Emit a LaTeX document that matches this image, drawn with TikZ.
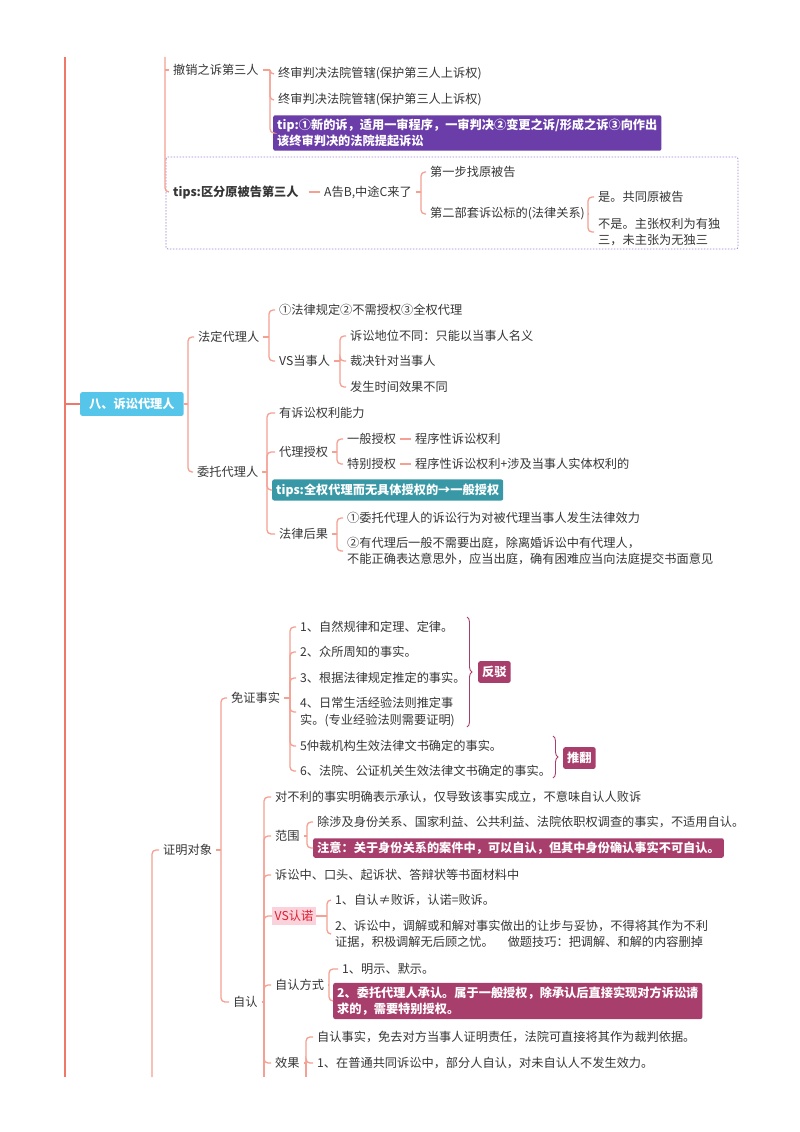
\documentclass[tikz,border=0pt]{standalone}
\usepackage{fontspec}
\setmainfont{Noto Sans CJK SC}
\usetikzlibrary{decorations.pathreplacing}
\definecolor{trunkc}{HTML}{F07868}
\definecolor{brcol}{HTML}{F4A092}
\definecolor{tc}{HTML}{363636}
\definecolor{purp}{HTML}{6A3DA8}
\definecolor{cyanb}{HTML}{55C5EA}
\definecolor{tealb}{HTML}{3898A6}
\definecolor{mag}{HTML}{A83E6C}
\definecolor{dashc}{HTML}{9C84D4}
\definecolor{pinkbg}{HTML}{F9D2DC}
\definecolor{redt}{HTML}{E0202E}
\newcommand{\fs}{\fontsize{12.2}{16.5}\selectfont}
\newcommand{\kids}[3]{%
  \draw[br] (#1.east) -- (#1.east -| #2);
  \foreach \k in {#3}{\draw[rc] (#1.east -| #2) |- (\k.west);}}
\begin{document}
\begin{tikzpicture}[x=1pt,y=-1pt,
  txt/.style={anchor=west,inner xsep=4pt,inner ysep=2pt,xshift=-2pt,font=\fs,text=tc,align=left},
  btxt/.style={txt,font=\fs\bfseries},
  box/.style={anchor=west,inner xsep=4pt,inner ysep=3.5pt,font=\fs\bfseries,text=white,align=left,rounded corners=2pt},
  br/.style={draw=brcol,line width=1.3pt},
  rc/.style={br,rounded corners=4pt},
  trunk/.style={draw=trunkc,line width=2.6pt},
  bracest/.style={draw=mag,line width=0.9pt,decorate,decoration={brace,amplitude=5pt}},
]
\useasboundingbox[fill=white] (0,0) rectangle (800,1132);

% trunk
\coordinate (t0) at (65,57);
\coordinate (t1) at (65,1077);
\draw[trunk] (t0) -- (t1);

% ---------- top section
\coordinate (p0) at (165,57);
\node[txt] (a1) at (171,70) {撤销之诉第三人};
\node[txt] (a11) at (276,74) {终审判决法院管辖(保护第三人上诉权)};
\node[txt] (a12) at (276,100) {终审判决法院管辖(保护第三人上诉权)};
\node[box,fill=purp] (a13) at (273,133) {tip:①新的诉，适用一审程序，一审判决②变更之诉/形成之诉③向作出\\该终审判决的法院提起诉讼};
\coordinate (bA) at (270,0);
\kids{a1}{bA}{a11,a12,a13}

\draw[draw=dashc,dash pattern=on 1.5pt off 1.5pt,line width=0.8pt,rounded corners=2pt] (166,157) rectangle (738,249);
\node[btxt] (a2) at (171,192) {tips:区分原被告第三人};
\draw[rc] (p0) |- (a2.west);
\draw[br] (a1.west -| p0) -- (a1.west);

\node[txt] (a21) at (322,192) {A告B,中途C来了};
\draw[br,shorten <=6pt] (a2.east) -- (a21.west);
\node[txt] (a211) at (428,172) {第一步找原被告};
\node[txt] (a212) at (428,214) {第二部套诉讼标的(法律关系)};
\coordinate (bB) at (421,0);
\kids{a21}{bB}{a211,a212}
\node[txt] (a2121) at (596,197) {是。共同原被告};
\node[txt] (a2122) at (596,232) {不是。主张权利为有独\\三，未主张为无独三};
\coordinate (bC) at (588,0);
\kids{a212}{bC}{a2121,a2122}

% ---------- section 8
\coordinate (t8) at (65,404);
\node[box,fill=cyanb,inner xsep=9pt,inner ysep=6pt] (b8) at (80,404) {八、诉讼代理人};
\draw[draw=trunkc,line width=2pt] (t8) -- (b8.west);

\node[txt] (c1) at (196,337) {法定代理人};
\node[txt] (c2) at (195,472) {委托代理人};
\coordinate (bD) at (188,0);
\kids{b8}{bD}{c1,c2}

\node[txt] (c11) at (277,310) {①法律规定②不需授权③全权代理};
\node[txt] (c12) at (277,361) {VS当事人};
\coordinate (bE) at (269,0);
\kids{c1}{bE}{c11,c12}
\node[txt] (c121) at (348,336) {诉讼地位不同：只能以当事人名义};
\node[txt] (c122) at (348,361) {裁决针对当事人};
\node[txt] (c123) at (348,387) {发生时间效果不同};
\coordinate (bF) at (340,0);
\kids{c12}{bF}{c121,c122,c123}

\node[txt] (c21) at (277,413) {有诉讼权利能力};
\node[txt] (c22) at (277,452) {代理授权};
\node[box,fill=tealb,inner ysep=4pt] (c23) at (272,490) {tips:全权代理而无具体授权的→一般授权};
\node[txt] (c24) at (277,534) {法律后果};
\coordinate (bG) at (267,0);
\kids{c2}{bG}{c21,c22,c23,c24}

\node[txt] (c221) at (345,439) {一般授权};
\node[txt] (c222) at (345,464) {特别授权};
\coordinate (bH) at (337,0);
\kids{c22}{bH}{c221,c222}
\node[txt] (c2211) at (413,439) {程序性诉讼权利};
\node[txt] (c2221) at (413,464) {程序性诉讼权利+涉及当事人实体权利的};
\draw[br] (c221.east) -- (c2211.west);
\draw[br] (c222.east) -- (c2221.west);

\node[txt] (c241) at (345,518) {①委托代理人的诉讼行为对被代理当事人发生法律效力};
\node[txt] (c242) at (345,551) {②有代理后一般不需要出庭，除离婚诉讼中有代理人，\\不能正确表达意思外，应当出庭，确有困难应当向法庭提交书面意见};
\coordinate (bI) at (337,0);
\kids{c24}{bI}{c241,c242}

% ---------- 证明对象
\coordinate (z0) at (152,1077);
\node[txt] (d0) at (161,850) {证明对象};
\draw[rc] (z0) |- (d0.west);
\node[txt] (d1) at (229,698) {免证事实};
\node[txt] (d2) at (231,1002) {自认};
\coordinate (bJ) at (221,0);
\kids{d0}{bJ}{d1,d2}

\node[txt] (d11) at (298,627) {1、自然规律和定理、定律。};
\node[txt] (d12) at (298,652) {2、众所周知的事实。};
\node[txt] (d13) at (298,678) {3、根据法律规定推定的事实。};
\node[txt] (d14) at (298,712) {4、日常生活经验法则推定事\\实。(专业经验法则需要证明)};
\node[txt] (d15) at (298,746) {5仲裁机构生效法律文书确定的事实。};
\node[txt] (d16) at (298,771) {6、法院、公证机关生效法律文书确定的事实。};
\coordinate (bK) at (290,0);
\kids{d1}{bK}{d11,d12,d13,d14,d15,d16}

\coordinate (r1a) at (467,617);
\coordinate (r1b) at (467,727);
\draw[bracest] (r1a) -- (r1b);
\node[box,fill=mag,inner ysep=5pt] (r1) at (478,672) {反驳};
\coordinate (r2a) at (553,736);
\coordinate (r2b) at (553,778);
\draw[bracest] (r2a) -- (r2b);
\node[box,fill=mag,inner ysep=5pt] (r2) at (563,758) {推翻};

\node[txt] (d21) at (273,797) {对不利的事实明确表示承认，仅导致该事实成立，不意味自认人败诉};
\node[txt] (d22) at (273,836) {范围};
\node[txt] (d23) at (273,875) {诉讼中、口头、起诉状、答辩状等书面材料中};
\node[box,fill=pinkbg,text=redt,font=\fs,inner xsep=2.5pt,inner ysep=3pt,rounded corners=0pt] (d24) at (272,916) {VS认诺};
\node[txt] (d25) at (273,985) {自认方式};
\node[txt] (d26) at (273,1063) {效果};
\coordinate (bL) at (264,0);
\kids{d2}{bL}{d21,d22,d23,d24,d25,d26}
\coordinate (z1) at (264,1077);
\draw[br] (d2.east -| bL) -- (z1);

\node[txt] (d221) at (315,822) {除涉及身份关系、国家利益、公共利益、法院依职权调查的事实，不适用自认。};
\node[box,fill=mag] (d222) at (313,848) {注意：关于身份关系的案件中，可以自认，但其中身份确认事实不可自认。};
\coordinate (bM) at (307,0);
\kids{d22}{bM}{d221,d222}

\node[txt] (d241) at (333,900) {1、自认≠败诉，认诺=败诉。};
\node[txt] (d242) at (333,934) {2、诉讼中，调解或和解对事实做出的让步与妥协，不得将其作为不利\\证据，积极调解无后顾之忧。\hspace{14pt}做题技巧：把调解、和解的内容删掉};
\coordinate (bN) at (327,0);
\kids{d24}{bN}{d241,d242}

\node[txt] (d251) at (340,969) {1、明示、默示。};
\node[box,fill=mag] (d252) at (333,1001) {2、委托代理人承认。属于一般授权，除承认后直接实现对方诉讼请\\求的，需要特别授权。};
\coordinate (bO) at (329,0);
\kids{d25}{bO}{d251,d252}

\node[txt] (d261) at (315,1037) {自认事实，免去对方当事人证明责任，法院可直接将其作为裁判依据。};
\node[txt] (d262) at (315,1063) {1、在普通共同诉讼中，部分人自认，对未自认人不发生效力。};
\coordinate (bP) at (306,0);
\kids{d26}{bP}{d261,d262}
\coordinate (z2) at (306,1077);
\draw[br] (d26.east -| bP) -- (z2);
\end{tikzpicture}
\end{document}
